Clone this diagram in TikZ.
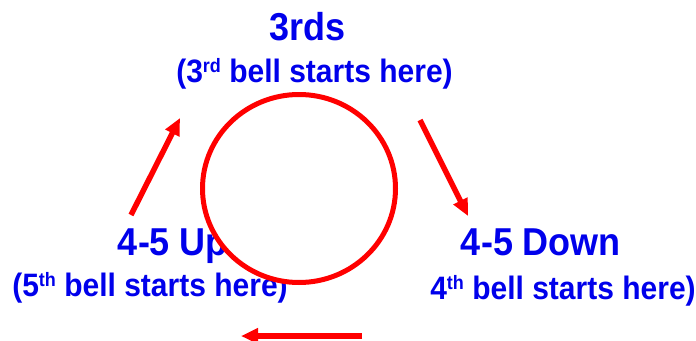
\documentclass[tikz,border=0pt]{standalone}
\usepackage{fontspec}
\setmainfont{Liberation Sans}
\usetikzlibrary{arrows.meta,shapes.geometric}
\definecolor{txtblue}{RGB}{0,0,235}
\definecolor{arrred}{RGB}{255,0,0}
\newcommand{\supx}[1]{\raisebox{9pt}{\fontsize{18}{18}\selectfont #1}}
\newcommand{\tall}[1]{\scalebox{1}[1.08]{#1}}
\tikzset{
  title/.style={text=txtblue,font=\bfseries\fontsize{36}{40}\selectfont,anchor=base,inner sep=0pt},
  sub/.style={text=txtblue,font=\bfseries\fontsize{30}{34}\selectfont,anchor=base,inner sep=0pt},
  redarrow/.style={draw=arrred,line width=5.5pt,-{Triangle[length=17pt,width=15pt]}},
  ring/.style={draw=arrred,line width=5pt,fill=white}
}
\begin{document}
\begin{tikzpicture}[x=1pt,y=-1pt]
\useasboundingbox (0,0) rectangle (696,340);
% arrows
\coordinate (a1s) at (131,215);
\coordinate (a1e) at (180,118);
\coordinate (a2s) at (420,120);
\coordinate (a2e) at (468,216);
\coordinate (a3s) at (362,336);
\coordinate (a3e) at (241,336);
\draw[redarrow] (a1s) -- (a1e);
\draw[redarrow] (a2s) -- (a2e);
\draw[redarrow] (a3s) -- (a3e);
% texts
\node[title] (t3) at (307.5,40) {\tall{3rds}};
\node[sub] (s3) at (314.5,82) {\tall{(3\supx{rd} bell starts here)}};
\node[title] (tup) at (173,255) {\tall{4-5 Up}};
\node[sub] (sup5) at (150,296) {\tall{(5\supx{th} bell starts here)}};
\node[title] (tdown) at (541,255) {\tall{4-5 Down}};
\node[sub] (sdown) at (563,299) {\tall{4\supx{th} bell starts here)}};
% circle
\node[ring,ellipse,minimum width=193pt,minimum height=188pt,inner sep=0pt] (c) at (299,188.5) {};
\end{tikzpicture}
\end{document}
